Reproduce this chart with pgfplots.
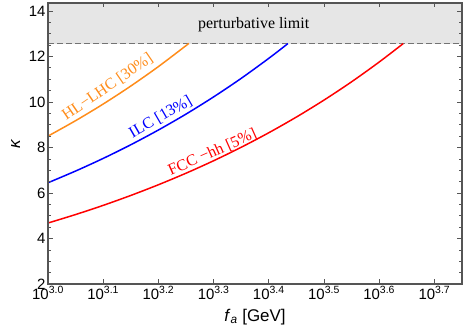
\documentclass[border=0pt]{standalone}
\usepackage{fontspec}
\setmainfont{Liberation Sans}
\newfontfamily\serif{Liberation Serif}
\usepackage{pgfplots}
\pgfplotsset{compat=1.18}
\definecolor{hllhc}{HTML}{FF8C1A}
\definecolor{frame}{HTML}{555555}
\definecolor{band}{HTML}{E6E6E6}

\begin{document}
\begin{tikzpicture}
  \useasboundingbox (-48bp,-51bp) rectangle (416bp,284bp);
  \begin{axis}[
    scale only axis, width=414bp, height=281bp,
    xmin=3.0, xmax=3.75, ymin=2, ymax=14.35,
    xtick={3.0,3.1,...,3.7},
    xticklabels={10\textsuperscript{3.0},10\textsuperscript{3.1},10\textsuperscript{3.2},10\textsuperscript{3.3},10\textsuperscript{3.4},10\textsuperscript{3.5},10\textsuperscript{3.6},10\textsuperscript{3.7}},
    ytick={2,4,...,14}, minor y tick num=3,
    tick align=inside, major tick length=4.5bp, minor tick length=2.5bp,
    axis line style={frame, line width=1.1pt},
    every tick/.style={frame, line width=0.7pt},
    tick label style={font=\fontsize{15}{15}\selectfont, black},
    /pgf/number format/assume math mode=true,
    xticklabel style={yshift=1bp},
    yticklabel style={xshift=1bp},
    label style={font=\fontsize{17}{17}\selectfont},
    xlabel={\textit{f}\textsubscript{\textit{a}} [GeV]},
    ylabel={\textit{κ}},
    xlabel style={yshift=-3bp},
    ylabel style={yshift=2bp},
    axis on top,
    clip=true,
  ]
    % perturbative region
    \addplot[fill=band, draw=none] coordinates {
      (3.0,12.566) (3.75,12.566) (3.75,14.35) (3.0,14.35)
    } -- cycle;
    \addplot[gray!90!black, line width=1.2pt, dash pattern=on 6bp off 3bp] coordinates {
      (3.0,12.566) (3.75,12.566)
    };
    \node[font=\serif\fontsize{16}{16}\selectfont] at (axis cs:3.3725,13.38) {perturbative limit};

    % HL-LHC
    \addplot[hllhc, line width=1.5pt, smooth] coordinates {
      (3.00,8.500) (3.05,9.178) (3.10,9.910) (3.15,10.701)
      (3.20,11.555) (3.25,12.476) (3.2547,12.566)
    };
    % ILC
    \addplot[blue, line width=1.5pt, smooth] coordinates {
      (3.00,6.450) (3.05,6.965) (3.10,7.520) (3.15,8.120)
      (3.20,8.768) (3.25,9.467) (3.30,10.223) (3.35,11.038)
      (3.40,11.918) (3.4346,12.566)
    };
    % FCC-hh
    \addplot[red, line width=1.5pt, smooth] coordinates {
      (3.00,4.680) (3.05,5.053) (3.10,5.456) (3.15,5.892)
      (3.20,6.362) (3.25,6.869) (3.30,7.417) (3.35,8.009)
      (3.40,8.648) (3.45,9.338) (3.50,10.083) (3.55,10.887)
      (3.60,11.756) (3.6435,12.566)
    };

    \node[hllhc, rotate=34.5, font=\serif\fontsize{16}{16}\selectfont] at (axis cs:3.108,10.65) {HL−LHC [30\%]};
    \node[blue, rotate=30, font=\serif\fontsize{16}{16}\selectfont] at (axis cs:3.204,9.33) {ILC [13\%]};
    \node[red, rotate=24, font=\serif\fontsize{16}{16}\selectfont] at (axis cs:3.298,7.78) {FCC −hh [5\%]};
  \end{axis}
\end{tikzpicture}
\end{document}
